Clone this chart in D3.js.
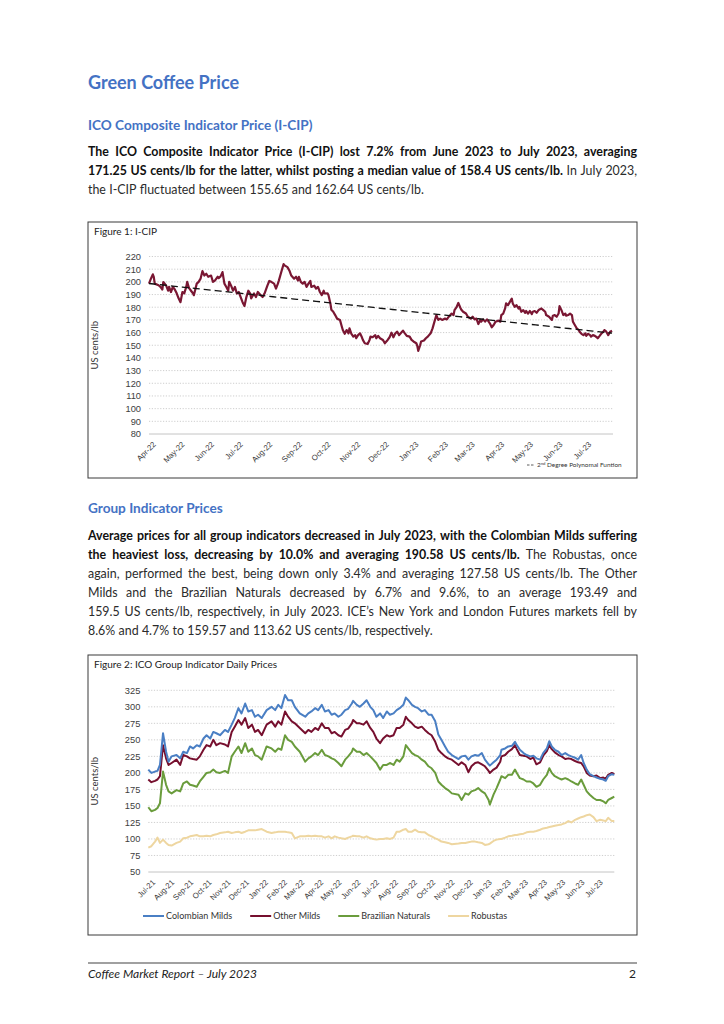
<!DOCTYPE html>
<html>
<head>
<meta charset="utf-8">
<script src="https://cdn.jsdelivr.net/npm/d3@7"></script>
<style>
  html, body { margin: 0; padding: 0; background: #fff; }
  svg { display: block; font-family: Lato, "Noto Sans", sans-serif; }
</style>
</head>
<body>
<svg id="page" width="724" height="1024"></svg>
<script>
// ---- data: Figure 1, I-CIP (days counted from 1 Apr 2022) ----
const icipStart = new Date(2022, 3, 1);
const icipEnd = new Date(2023, 6, 31);
const icipDays = [0,2,4,5,6,10,12,14,15,18,20,21,23,25,27,29,31,33,35,37,39,40,42,44,46,47,50,52,54,56,58,60,62,65,67,69,72,73,75,77,79,81,83,84,86,88,90,92,94,96,98,100,102,104,106,107,110,112,114,117,119,121,124,126,128,131,133,135,136,139,141,142,145,147,149,152,154,156,157,159,161,163,165,167,169,170,173,175,177,179,181,183,184,187,188,190,191,193,195,197,200,202,203,205,207,209,210,212,214,216,217,219,221,223,224,226,229,231,232,234,237,238,240,242,245,247,250,252,254,256,258,260,262,265,266,268,270,273,275,277,280,281,282,284,285,288,290,292,295,297,299,301,303,305,307,310,312,314,317,319,320,322,324,326,327,329,332,334,337,339,341,343,345,347,348,350,352,354,355,357,359,361,363,366,368,369,371,373,374,376,378,380,381,383,385,387,388,390,392,394,395,397,399,401,402,404,406,408,409,411,413,415,416,419,422,423,425,427,429,430,432,434,436,437,439,441,443,444,446,448,450,451,453,455,457,458,460,462,463,465,467,469,470,472,474,476,477,479,481,483,485];
const icipValues = [198.6,202.5,205.9,204,198.6,197.3,196,194,199.9,197,193,196,192,196,194,191,187,184,192,191,196,200,195,193,191,189.5,198.6,200,202.5,208.5,205,206.4,204,205,200,201,204,203,204.3,207.7,198.6,196,193,200,197,193,196,190.8,192,188,184,181,188,193,190.8,187,190.8,188,192,189.5,188,190.8,197,200.7,200,198.6,194.7,198.6,201,209,214,213,211.6,209,205,202.5,204,201,204,200,198.6,200,196,198.6,200.7,196,197,194.7,196,192,189.5,193,190.8,191,189.5,183,178,176.4,173.8,171,170,164.6,162,159,162,159.4,163.4,159,156.8,158,155.5,158,159.4,156.3,154.2,151.6,151,154.2,156.8,156.3,158,155.5,157.4,155.5,154.2,151.6,154.2,156.3,159.9,156.3,159.4,160.7,158,160.7,161.5,159.4,157.4,156.8,154.2,153,151.6,149.5,145.6,150,153,153.7,155.5,156.8,159.4,163.3,168.6,173.8,170,171,170,171,170.4,172.5,175,173.8,177.7,179.8,183.4,179.8,178.2,176.4,175,172.5,171,172.5,170.4,171,166.7,170,168.6,170.4,168.6,170.4,169.4,167.3,164.2,166,168.6,169.4,168.6,173.8,175,179,183,181.6,184.2,186.8,183,180.3,181.6,179,180.3,176.4,177.7,175.6,177,175,177,174.6,176.4,177,175.6,177.7,178.2,179,177.7,176.4,173.8,172.5,170,173.3,173.8,172.5,175,180.8,177.7,173.8,175,173.3,173.8,175,173.8,168.6,166,163.4,162,160.7,159,158,159.4,157.4,159,158,156.8,158,157.4,156.3,155.5,157.4,159.4,160.7,162,160.7,158,160.7,161.5];
const icipTicks = [80,90,100,110,120,130,140,150,160,170,180,190,200,210,220];
// trend line (2nd degree polynomial)
const trendDays = [0, 91, 183, 306, 365, 485];
const trendValues = [198.5, 192, 183.5, 174, 169.5, 159.5];

// ---- data: Figure 2, group indicators (days counted from 1 Jul 2021) ----
const groupStart = new Date(2021, 6, 1);
const groupEnd = new Date(2023, 6, 31);
const groupDays = [0,5,11,15,19,24,29,33,38,46,52,57,63,68,73,79,84,90,95,101,106,111,117,125,130,136,141,147,152,158,163,169,174,179,185,193,201,207,212,217,223,228,234,239,247,
  256,261,266,272,277,283,288,294,299,304,310,315,321,326,332,334,340,345,351,356,362,367,372,378,383,389,394,400,405,410,416,420,424,430,435,440,446,451,457,462,468,473,478,484,489,495,
  506,511,517,522,527,533,538,544,549,555,557,563,568,574,576,582,587,593,598,601,606,612,617,623,628,633,639,644,650,654,658,663,669,674,680,685,690,696,701,706,710,715,720,726,731,737,742,746,750,756,760];
const colombianMilds = [205,200,202,203,212,260,232,217,225,227,222,232,230,240,237,242,240,252,257,252,262,260,257,265,262,273,283,298,290,305,293,295,285,288,283,295,300,295,303,298,318,310,310,300,290,
  285,290,293,298,295,303,293,295,288,290,285,288,295,297,305,309,303,300,305,310,300,295,285,290,283,293,288,290,295,298,303,314,310,303,300,298,293,295,288,288,278,258,250,240,232,227,
  221,225,226,220,225,227,226,230,220,213,211,216,220,227,235,237,240,241,247,242,235,230,227,225,226,222,220,230,237,248,240,235,232,227,230,227,225,223,220,227,215,205,198,195,193,191,190,188,195,198,197];
const otherMilds = [190,186,188,190,195,242,222,212,215,220,212,227,225,222,221,220,225,235,242,240,250,242,245,243,240,262,270,280,273,283,268,273,262,265,257,273,278,270,278,273,293,285,278,275,268,
  260,265,262,268,265,275,268,268,260,262,257,255,265,267,275,280,275,275,273,278,268,262,252,245,252,257,255,257,268,268,273,285,280,275,270,268,270,265,260,257,247,235,230,225,222,220,
  212,216,212,201,210,215,216,213,210,203,200,205,208,217,225,227,232,236,242,236,227,226,225,221,223,213,216,226,233,242,236,231,227,225,221,222,221,218,216,215,210,200,196,195,196,192,193,191,197,200,198];
const brazilianNaturals = [148,142,144,147,154,202,182,172,169,174,172,184,187,182,181,179,187,194,200,201,205,201,200,203,200,225,232,240,230,245,232,237,227,225,220,240,237,232,237,235,257,250,247,240,232,
  217,222,225,230,227,235,227,225,222,220,215,210,220,225,232,237,232,232,227,230,225,220,215,205,212,212,215,212,220,217,225,242,237,230,227,225,220,217,210,207,200,187,182,177,174,169,
  167,159,169,167,172,174,177,172,169,159,152,167,177,190,195,192,197,197,205,200,192,190,187,187,184,179,182,190,197,207,200,195,192,190,192,190,187,184,182,190,182,172,167,162,159,159,157,154,159,162,164];
const robustas = [87,89,96,102,94,99,94,91,90,94,96,101,102,104,105,106,104,104,105,104,106,107,109,110,111,109,110,111,109,111,113,113,113,114,115,111,109,110,111,111,111,110,109,101,104,
  104,105,104,105,104,104,102,104,101,104,102,101,100,102,104,105,104,104,102,104,101,100,99,100,100,101,100,102,111,111,114,115,111,111,114,111,110,110,106,104,101,99,96,95,94,92,
  93,94,94,95,96,96,95,94,91,92,93,97,99,100,100,102,104,105,106,106,107,108,110,111,111,112,114,116,117,118,119,120,121,122,124,127,125,129,131,133,134,136,137,133,127,129,128,127,132,127,127];
const groupTicks = [50,75,100,125,150,175,200,225,250,275,300,325];
const seriesNames = ["Colombian Milds", "Other Milds", "Brazilian Naturals", "Robustas"];
const seriesColors = ["#4a7fc4", "#760f2e", "#6a9c3c", "#eed6a0"];

// ---- page text ----
const svg = d3.select("#page");
const HEAD = "#4472c4";
const BODY = 12.4;

svg.append("text").attr("x", 88).attr("y", 89)
  .attr("font-size", 18).attr("font-weight", 700).attr("fill", HEAD)
  .text("Green Coffee Price");
svg.append("text").attr("x", 88).attr("y", 130)
  .attr("font-size", 13.6).attr("font-weight", 700).attr("fill", HEAD)
  .text("ICO Composite Indicator Price (I-CIP)");
svg.append("text").attr("x", 88).attr("y", 513)
  .attr("font-size", 13.6).attr("font-weight", 700).attr("fill", HEAD)
  .text("Group Indicator Prices");

// one line of a justified paragraph, runs = [[text, bold], ...]
function textLine(runs, x, y, width, justify) {
  const words = [];
  runs.forEach(([t, bold]) => t.split(/\s+/).filter(Boolean).forEach(w => words.push({ w, bold })));
  const nodes = words.map(d => svg.append("text")
    .attr("y", y).attr("font-size", BODY)
    .attr("font-weight", d.bold ? 700 : 400)
    .attr("fill", d.bold ? "#111" : "#2b2b2b")
    .text(d.w));
  let widths = nodes.map(n => n.node().getComputedTextLength());
  let total = d3.sum(widths);
  let gap = justify ? (width - total) / (words.length - 1) : BODY * 0.27;
  if (gap < 2) { // squeeze if the line is too long
    const k = (width - 2 * (words.length - 1)) / total;
    widths = widths.map(w => w * k);
    nodes.forEach((n, i) => n.attr("textLength", widths[i]).attr("lengthAdjust", "spacingAndGlyphs"));
    gap = 2;
  }
  let cx = x;
  nodes.forEach((n, i) => { n.attr("x", cx); cx += widths[i] + gap; });
}

const para1 = [
  [["The ICO Composite Indicator Price (I-CIP) lost 7.2% from June 2023 to July 2023, averaging", true]],
  [["171.25 US cents/lb for the latter, whilst posting a median value of 158.4 US cents/lb.", true], ["In July 2023,", false]],
  [["the I-CIP fluctuated between 155.65 and 162.64 US cents/lb.", false]]
];
const para2 = [
  [["Average prices for all group indicators decreased in July 2023, with the Colombian Milds suffering", true]],
  [["the heaviest loss, decreasing by 10.0% and averaging 190.58 US cents/lb.", true], ["The Robustas, once", false]],
  [["again, performed the best, being down only 3.4% and averaging 127.58 US cents/lb.  The Other", false]],
  [["Milds and the Brazilian Naturals decreased by 6.7% and 9.6%, to an average 193.49 and", false]],
  [["159.5 US cents/lb, respectively, in July 2023. ICE\u2019s New York and London Futures markets fell by", false]],
  [["8.6% and 4.7% to 159.57 and 113.62 US cents/lb, respectively.", false]]
];
para1.forEach((l, i) => textLine(l, 88, 156 + i * 19, 549, i < para1.length - 1));
para2.forEach((l, i) => textLine(l, 88, 540 + i * 19, 549, i < para2.length - 1));

// ---- chart helper ----
function chart(cfg) {
  const g = svg.append("g");
  g.append("rect").attr("x", cfg.box[0]).attr("y", cfg.box[1])
    .attr("width", cfg.box[2]).attr("height", cfg.box[3])
    .attr("fill", "#fff").attr("stroke", "#3a3a3a").attr("stroke-width", 1);
  g.append("text").attr("x", cfg.box[0] + 6).attr("y", cfg.box[1] + 13)
    .attr("font-size", 10).attr("fill", "#222").text(cfg.title);

  const x = d3.scaleTime().domain(cfg.xDomain).range([cfg.left, cfg.right]);
  const y = d3.scaleLinear().domain(d3.extent(cfg.yTicks)).range([cfg.bottom, cfg.top]);

  // dotted gridlines + solid baseline
  g.append("g").selectAll("line").data(cfg.yTicks.slice(1)).join("line")
    .attr("x1", cfg.left).attr("x2", cfg.right)
    .attr("y1", d => y(d)).attr("y2", d => y(d))
    .attr("stroke", "#c8c8c8").attr("stroke-width", 0.9).attr("stroke-dasharray", "1.2,1.6");
  g.append("line").attr("x1", cfg.left).attr("x2", cfg.right)
    .attr("y1", cfg.bottom).attr("y2", cfg.bottom)
    .attr("stroke", "#c4c4c4").attr("stroke-width", 1);

  // y labels
  const ya = g.append("g").attr("transform", `translate(${cfg.left - 8},0)`)
    .call(d3.axisLeft(y).tickValues(cfg.yTicks).tickSize(0).tickPadding(0));
  ya.select(".domain").remove();
  ya.selectAll("text").attr("font-size", 9.3).attr("fill", "#404040").attr("font-family", null);

  // x labels, rotated
  const xa = g.append("g").attr("transform", `translate(0,${cfg.bottom})`)
    .call(d3.axisBottom(x).ticks(d3.timeMonth.every(1)).tickFormat(d3.timeFormat("%b-%y")).tickSize(0));
  xa.select(".domain").remove();
  xa.selectAll("text").attr("font-size", 7.8).attr("fill", "#404040").attr("font-family", null)
    .attr("y", 0).attr("dy", "0.35em").attr("text-anchor", "end")
    .attr("transform", "translate(5,9) rotate(-45)");

  g.append("text")
    .attr("transform", `translate(${cfg.box[0] + 10},${(cfg.top + cfg.bottom) / 2}) rotate(-90)`)
    .attr("text-anchor", "middle").attr("font-size", 9.5).attr("fill", "#333")
    .text("US cents/lb");
  return { g, x, y };
}

// ---- Figure 1 ----
const icip = icipDays.map((d, i) => ({ date: d3.timeDay.offset(icipStart, d), day: d, value: icipValues[i] }));
const f1 = chart({
  box: [88, 222, 549, 256], title: "Figure 1: I-CIP",
  xDomain: [icipStart, icipEnd], yTicks: icipTicks,
  left: 149, right: 613, top: 256.5, bottom: 434
});

// 2nd degree polynomial through the trend readings (least squares)
function quadFit(pts) {
  const s = k => d3.sum(pts, p => Math.pow(p.t, k));
  const sy = k => d3.sum(pts, p => Math.pow(p.t, k) * p.v);
  const A = [[s(0), s(1), s(2), sy(0)], [s(1), s(2), s(3), sy(1)], [s(2), s(3), s(4), sy(2)]];
  for (let i = 0; i < 3; i++) {
    for (let j = i + 1; j < 3; j++) {
      const f = A[j][i] / A[i][i];
      for (let k = i; k < 4; k++) A[j][k] -= f * A[i][k];
    }
  }
  const c = [0, 0, 0];
  for (let i = 2; i >= 0; i--) {
    let r = A[i][3];
    for (let k = i + 1; k < 3; k++) r -= A[i][k] * c[k];
    c[i] = r / A[i][i];
  }
  return t => c[0] + c[1] * t + c[2] * t * t;
}
const lastDay = d3.max(icipDays);
const fit = quadFit(trendDays.map((d, i) => ({ t: d / lastDay, v: trendValues[i] })));
const trend = d3.range(0, lastDay + 1, 5).concat([lastDay])
  .map(d => ({ date: d3.timeDay.offset(icipStart, d), value: fit(d / lastDay) }));

f1.g.append("path").datum(icip)
  .attr("fill", "none").attr("stroke", "#7a1733").attr("stroke-width", 2.2).attr("stroke-linejoin", "round")
  .attr("d", d3.line().x(d => f1.x(d.date)).y(d => f1.y(d.value)));
f1.g.append("path").datum(trend)
  .attr("fill", "none").attr("stroke", "#111").attr("stroke-width", 1.3).attr("stroke-dasharray", "7,4")
  .attr("d", d3.line().x(d => f1.x(d.date)).y(d => f1.y(d.value)));

// footnote
const fn = f1.g.append("g").attr("transform", "translate(527,467)");
fn.append("line").attr("x1", 0).attr("x2", 7).attr("y1", -2).attr("y2", -2)
  .attr("stroke", "#333").attr("stroke-width", 0.8).attr("stroke-dasharray", "2.5,1.5");
const fnt = fn.append("text").attr("x", 10).attr("font-size", 6.4).attr("fill", "#333");
fnt.append("tspan").text("2");
fnt.append("tspan").attr("font-size", 4.2).attr("dy", -2.5).text("nd");
fnt.append("tspan").attr("dy", 2.5).text(" Degree Polynomal Funtion");

// ---- Figure 2 ----
const f2 = chart({
  box: [88, 655, 549, 280], title: "Figure 2: ICO Group Indicator Daily Prices",
  xDomain: [groupStart, groupEnd], yTicks: groupTicks,
  left: 148.3, right: 614.3, top: 690.3, bottom: 872
});
const groupSeries = [colombianMilds, otherMilds, brazilianNaturals, robustas];
const groupLine = d3.line()
  .x((d, i) => f2.x(d3.timeDay.offset(groupStart, groupDays[i])))
  .y(d => f2.y(d));
// robustas drawn first so the others sit on top
[3, 2, 1, 0].forEach(k => {
  f2.g.append("path").datum(groupSeries[k])
    .attr("fill", "none").attr("stroke", seriesColors[k]).attr("stroke-width", 2)
    .attr("stroke-linejoin", "round").attr("d", groupLine);
});

// legend
let lx = 143;
seriesNames.forEach((name, k) => {
  f2.g.append("line").attr("x1", lx).attr("x2", lx + 21).attr("y1", 916).attr("y2", 916)
    .attr("stroke", seriesColors[k]).attr("stroke-width", 2);
  const t = f2.g.append("text").attr("x", lx + 23).attr("y", 919)
    .attr("font-size", 9).attr("fill", "#333").text(name);
  lx += 23 + t.node().getComputedTextLength() + 18;
});

// ---- footer ----
svg.append("line").attr("x1", 88).attr("x2", 637).attr("y1", 963).attr("y2", 963)
  .attr("stroke", "#808080").attr("stroke-width", 1.5);
svg.append("text").attr("x", 88).attr("y", 978).attr("font-size", 12)
  .attr("font-style", "italic").attr("fill", "#222").text("Coffee Market Report \u2013 July 2023");
svg.append("text").attr("x", 636).attr("y", 978).attr("font-size", 12)
  .attr("text-anchor", "end").attr("fill", "#222").text("2");
</script>
</body>
</html>
